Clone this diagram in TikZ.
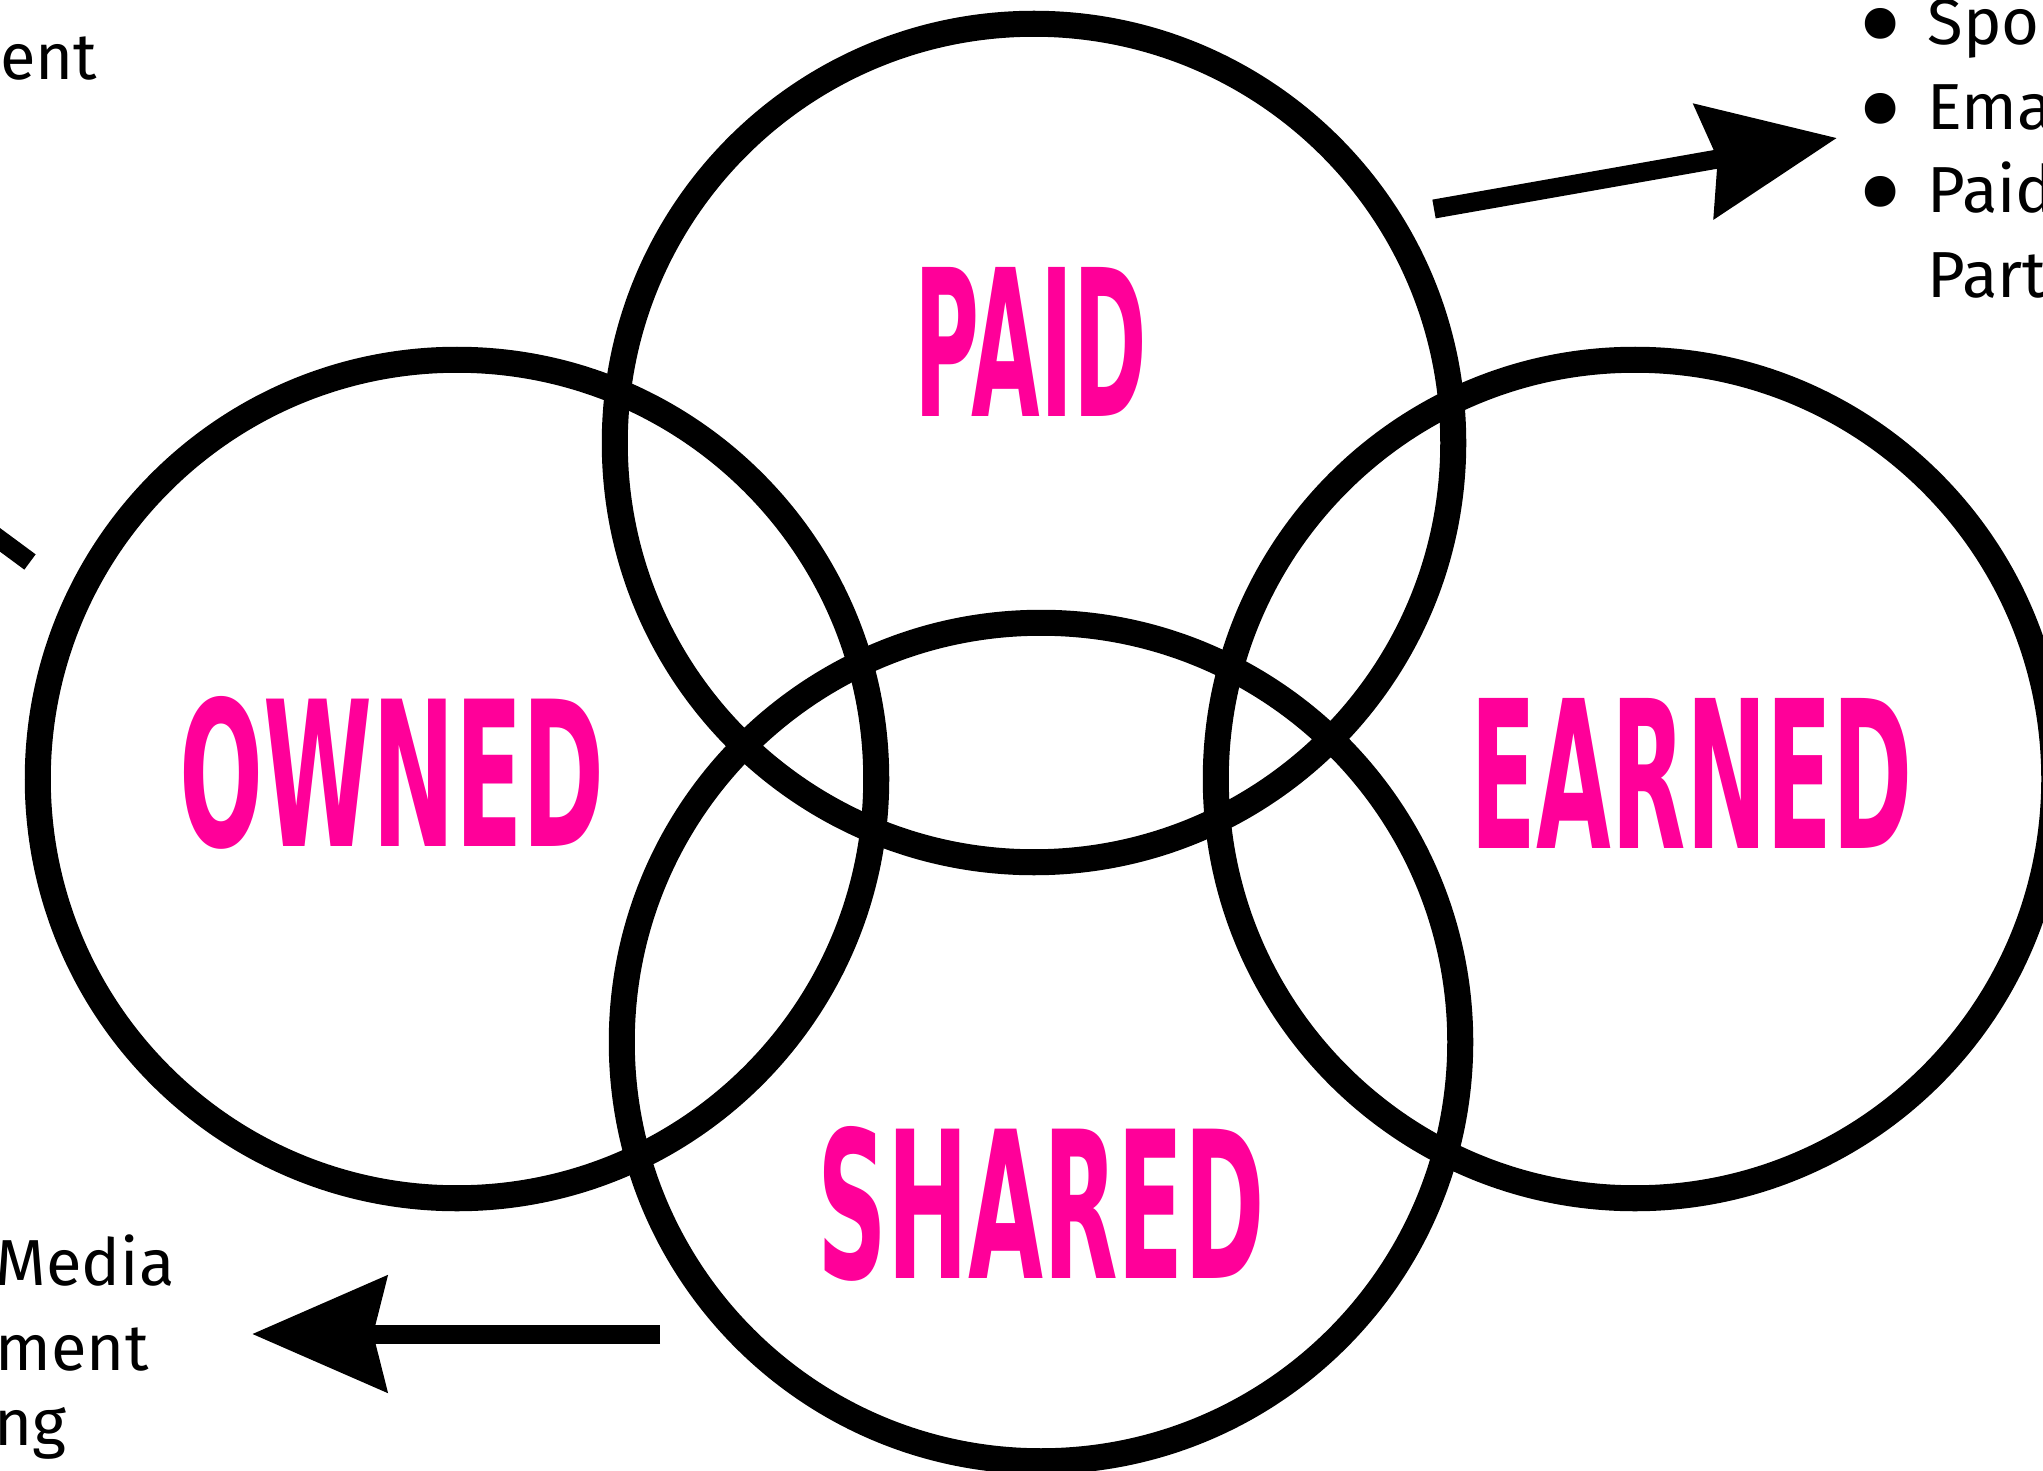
\documentclass[tikz,border=0pt]{standalone}
\usepackage{fontspec}
\setmainfont{Fira Sans}
\newfontfamily\labelfont{DejaVu Sans}
\usetikzlibrary{arrows.meta,positioning}
\definecolor{hotpink}{HTML}{FF0099}
\newcommand{\medialabel}[3]{\resizebox{#2}{#3}{\labelfont\bfseries #1}}
\newcommand{\listdot}{\llap{\smash{\raisebox{-0.25cm}{\scalebox{2.1}{\textbullet}}}\hspace{0.25cm}}}

\begin{document}
\begin{tikzpicture}[x=0.01cm,y=-0.01cm,
  ring/.style={draw,circle,line width=0.26cm,minimum size=8.38cm,inner sep=0pt},
  label/.style={text=hotpink,inner sep=0pt},
  listtext/.style={inner sep=0pt,font=\fontsize{18.5}{24}\selectfont},
  arrowline/.style={line width=0.19cm,-{Stealth[length=1.34cm,width=1.14cm,inset=0.13cm]}}]
\useasboundingbox (0,0) rectangle (2043,1470);
\node[ring] (paid) at (1034,443) {};
\node[ring] (owned) at (457,779) {};
\node[ring] (earned) at (1635,779) {};
\node[ring] (shared) at (1041,1042) {};
\node[label] (paidlbl) at (1031,342) {\medialabel{PAID}{2.32cm}{1.49cm}};
\node[label] (ownedlbl) at (392,773) {\medialabel{OWNED}{4.25cm}{1.50cm}};
\node[label] (earnedlbl) at (1692,773) {\medialabel{EARNED}{4.42cm}{1.50cm}};
\node[label] (sharedlbl) at (1041,1204) {\medialabel{SHARED}{4.47cm}{1.52cm}};
% lists running off the page edges
\node[listtext,anchor=base west] (spo) at (1927,45) {\listdot Spo};
\node[listtext,anchor=base west] (ema) at (1927,130) {\listdot Ema};
\node[listtext,anchor=base west] (pai) at (1927,213) {\listdot Paid};
\node[listtext,anchor=base west] (par) at (1927,298) {Part};
\node[listtext,anchor=base east] (ent) at (98,80) {ent};
\node[listtext,anchor=base west] (media) at (-5,1285) {Media};
\node[listtext,anchor=base west] (ment) at (-5,1370) {ment};
\node[listtext,anchor=base west] (ng) at (-6,1445) {ng};
\coordinate (paidfrom) at (1434,209);
\coordinate (paidto) at (1837,138);
\coordinate (sharedfrom) at (660,1334);
\coordinate (sharedto) at (252,1334);
\coordinate (ownedfrom) at (30,562);
\coordinate (ownedto) at (-230,370);
\draw[arrowline] (paidfrom) -- (paidto);
\draw[arrowline] (sharedfrom) -- (sharedto);
\draw[arrowline] (ownedfrom) -- (ownedto);
\end{tikzpicture}
\end{document}
